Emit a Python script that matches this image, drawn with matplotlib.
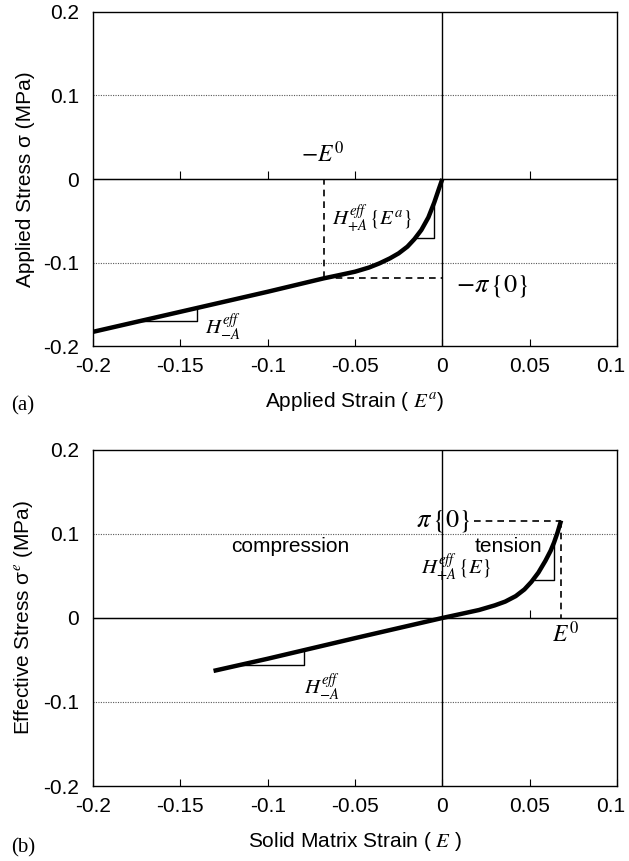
import matplotlib
matplotlib.use("Agg")
import matplotlib.pyplot as plt
import matplotlib.transforms as mtransforms

plt.rcParams['font.family'] = ['Liberation Sans', 'DejaVu Sans']
plt.rcParams['mathtext.fontset'] = 'stix'

# panel (a): applied strain vs applied stress
strain_a = [-0.2, -0.15, -0.1, -0.068, -0.06, -0.05, -0.042, -0.036, -0.03, -0.025,
            -0.02, -0.016, -0.012, -0.008, -0.0046, -0.002, 0.0]
stress_a = [-0.183, -0.159, -0.135, -0.119, -0.1155, -0.111, -0.106, -0.101, -0.095, -0.089,
            -0.081, -0.072, -0.061, -0.046, -0.028, -0.012, 0.0]
E0 = 0.068
pi0 = 0.119

# panel (b): solid matrix strain vs effective stress
strain_b = [-0.131, -0.1, -0.05, 0.0, 0.01, 0.021, 0.03, 0.036, 0.042, 0.047,
            0.051, 0.055, 0.059, 0.062, 0.064, 0.066, 0.068]
stress_b = [-0.063, -0.0485, -0.024, 0.0, 0.0045, 0.0095, 0.015, 0.0195, 0.026, 0.034,
            0.043, 0.054, 0.068, 0.08, 0.09, 0.102, 0.116]

xticks = [-0.2, -0.15, -0.1, -0.05, 0, 0.05, 0.1]
xticklabels = ['-0.2', '-0.15', '-0.1', '-0.05', '0', '0.05', '0.1']
yticks = [-0.2, -0.1, 0, 0.1, 0.2]
yticklabels = ['-0.2', '-0.1', '0', '0.1', '0.2']

fig = plt.figure(figsize=(6.29, 8.61), dpi=100)
ax1 = fig.add_axes([0.1479, 0.5981, 0.8330, 0.3880])
ax2 = fig.add_axes([0.1479, 0.0871, 0.8330, 0.3903])


def setup(ax, zero_ticks):
    ax.set_xlim(-0.2, 0.1)
    ax.set_ylim(-0.2, 0.2)
    ax.set_xticks(xticks)
    ax.set_xticklabels(xticklabels, fontsize=15)
    ax.set_yticks(yticks)
    ax.set_yticklabels(yticklabels, fontsize=15)
    ax.tick_params(axis='x', direction='in', length=5, width=0.8, pad=8)
    ax.tick_params(axis='y', length=0, pad=10)
    # keep the last x label inside the picture
    last = ax.get_xticklabels()[-1]
    last.set_transform(last.get_transform() +
                       mtransforms.ScaledTranslation(-6 / 100, 0, fig.dpi_scale_trans))
    for s in ax.spines.values():
        s.set_linewidth(1.0)
    for y in (-0.1, 0.1):
        ax.axhline(y, color='0.35', lw=0.8, ls=(0, (1, 1.2)), zorder=1)
    ax.axhline(0, color='black', lw=1.0, zorder=2)
    ax.axvline(0, color='black', lw=1.0, zorder=2)
    sec = ax.secondary_xaxis(0.5)
    sec.set_xticks(zero_ticks)
    sec.set_xticklabels([''] * len(zero_ticks))
    sec.tick_params(direction='out', length=6, width=0.8)
    sec.spines['bottom'].set_linewidth(1.0)


# ---- panel (a)
setup(ax1, [-0.15, -0.1, -0.05, 0.05])
ax1.plot(strain_a, stress_a, color='black', lw=3.2, solid_capstyle='butt',
         solid_joinstyle='round', zorder=4)
ax1.plot([-E0, 0], [-pi0, -pi0], color='black', lw=1.2, ls=(0, (4, 3)), zorder=3)
ax1.plot([-E0, -E0], [-pi0, 0], color='black', lw=1.2, ls=(0, (4, 3)), zorder=3)
# slope markers
ax1.plot([-0.016, -0.0046, -0.0046], [-0.071, -0.071, -0.028], color='black', lw=1.0)
ax1.plot([-0.173, -0.1406, -0.1406], [-0.170, -0.170, -0.154], color='black', lw=1.0)
ax1.text(-0.0686, 0.03, r'$-E^{0}$', fontsize=17, ha='center', va='center')
ax1.text(-0.040, -0.048, r'$H^{eff}_{+A}\,\{E^{a}\}$', fontsize=15, ha='center', va='center')
ax1.text(-0.136, -0.178, r'$H^{eff}_{-A}$', fontsize=15, ha='left', va='center')
ax1.text(0.008, -0.128, r'$-\pi\,\{0\}$', fontsize=19, ha='left', va='center')
ax1.set_ylabel('Applied Stress σ (MPa)', fontsize=15, labelpad=6)
ax1.set_xlabel(r'Applied Strain ( $E^{a}$)', fontsize=15, labelpad=10)
fig.text(0.017, 0.529, '(a)', fontsize=15, family='Liberation Serif', va='center')

# ---- panel (b)
setup(ax2, [0.05])
ax2.plot(strain_b, stress_b, color='black', lw=3.2, solid_capstyle='butt',
         solid_joinstyle='round', zorder=4)
ax2.plot([0.018, E0], [0.116, 0.116], color='black', lw=1.2, ls=(0, (4, 3)), zorder=3)
ax2.plot([E0, E0], [0.116, 0], color='black', lw=1.2, ls=(0, (4, 3)), zorder=3)
ax2.plot([0.053, 0.064, 0.064], [0.045, 0.045, 0.09], color='black', lw=1.0)
ax2.plot([-0.116, -0.0794, -0.0794], [-0.056, -0.056, -0.040], color='black', lw=1.0)
ax2.text(-0.087, 0.085, 'compression', fontsize=15, ha='center', va='center')
ax2.text(0.038, 0.085, 'tension', fontsize=15, ha='center', va='center')
ax2.text(0.016, 0.116, r'$\pi\,\{0\}$', fontsize=19, ha='right', va='center')
ax2.text(0.008, 0.06, r'$H^{eff}_{+A}\,\{E\}$', fontsize=15, ha='center', va='center')
ax2.text(-0.079, -0.082, r'$H^{eff}_{-A}$', fontsize=15, ha='left', va='center')
ax2.text(0.0705, -0.02, r'$E^{0}$', fontsize=17, ha='center', va='center')
ax2.set_ylabel(r'Effective Stress σ$^{e}$ (MPa)', fontsize=15, labelpad=6)
ax2.set_xlabel(r'Solid Matrix Strain ( $E$ )', fontsize=15, labelpad=10)
fig.text(0.017, 0.015, '(b)', fontsize=15, family='Liberation Serif', va='center')

fig.savefig('out.png', dpi=100)
